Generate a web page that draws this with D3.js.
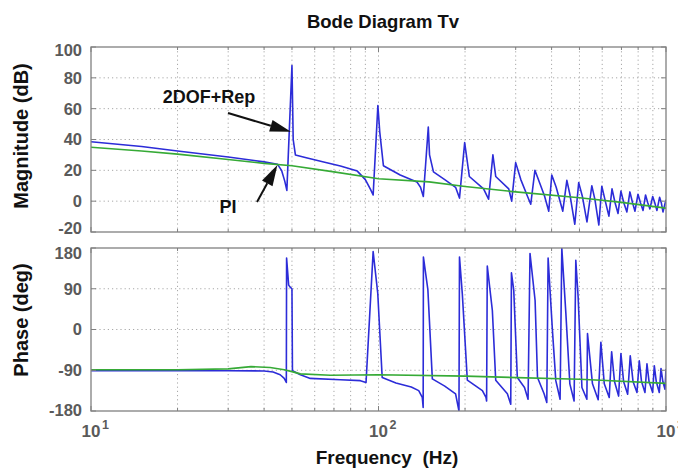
<!DOCTYPE html>
<html><head><meta charset="utf-8">
<script src="https://cdn.jsdelivr.net/npm/d3@7"></script>
<style>
html,body{margin:0;padding:0;background:#fff;}
svg{display:block;font-family:"Liberation Sans",Arial,Helvetica,sans-serif;}
</style></head>
<body><svg id="c" width="678" height="473"></svg>
<script>
// ---- data (frequency in Hz, value) ----
const title = "Bode Diagram Tv";
const xLabel = "Frequency  (Hz)";
const magLabel = "Magnitude (dB)";
const phaseLabel = "Phase (deg)";
const magTicks = [100, 80, 60, 40, 20, 0, -20];
const phaseTicks = [180, 90, 0, -90, -180];
const decadeTicks = [10, 100, 1000];
const decadeExp = ["1", "2", "3"];

// 2DOF+Rep magnitude (dB)
const magRep = [[10,38.5],[15,35.5],[20,32.5],[30,28.6],[40,25.5],[44.5,24],[46,20],[47.2,13],[48,7],
 [50,88],[50.5,40],[51.4,30],[56.5,28],[65,25.3],[73.7,22.8],[84.4,19.5],[90,14],[93.8,7.7],[95.8,4],
 [99.5,62],[101,45],[104,23],[119,17],[136,12.5],[140,9],[143.2,3],
 [149,48],[150.5,30],[155.3,19],[170,14],[185.4,9],[191.3,2],
 [199.4,38],[207,16],[232,8],[241.5,1.3],
 [250,30],[255.7,16],[283.8,8],[290.6,0],
 [300,25],[312.6,14],[330,3],[338.5,-2],
 [350,20],[365,11],[378,3.4],[391,-6.5],
 [400.6,17],[415,9],[437.5,-6.5],
 [452,13.5],[463,4.5],[481.7,-15],
 [497,12],[512,3],[531,-13.5],
 [552,10],[566,1],[584,-15.5],
 [598,9.7],[615,0],[633,-9.7],
 [649,8],[665,-1],[681,-8],
 [697,6.5],[713,-1],[731,-7],
 [749,6],[765,-1],[780,-6.5],
 [799,4.5],[815,-1],[832,-6],
 [849,4],[864,-1],[879,-5],
 [899,3],[914,-1],[930,-6],
 [950,2.5],[963,-1],[976,-7],[1000,1]];

// PI magnitude (dB)
const magPI = [[10,35],[15,32.5],[20,30.5],[30,27],[40,24.5],[50,23],[70,19],[100,14.5],[150,12.5],
 [200,9.5],[300,6],[500,2.2],[700,-0.8],[1000,-4.5]];

// 2DOF+Rep phase (deg)
const phaseRep = [[10,-91],[20,-91],[30,-91],[40,-91.5],[43,-94],[45.5,-100],[47,-108],[47.8,-117],
 [47.9,158],[48.7,98],[49.4,93],[50,90],[50.2,-91],[53.5,-100],[57.9,-108],[73.7,-111],[86.5,-113],
 [90.5,-117],[95.8,172],[99.4,80],[103,-106],[115,-118],[130,-127],[138,-135],[142,-150],[143,-172],
 [143.3,160],[148.5,88],[153.9,-109],[170,-125],[185.4,-142],[190.5,-180],[191.3,160],[195.7,78],
 [203.7,-112],[229.8,-135],[236.5,-150],[237.7,-158],[239,140],[248.9,42],[255.7,-112],[280.7,-142],
 [288.4,-165],[290,125],[295.4,87],[304,-106],[322,-128],[331.3,-154],[336.5,168],[350.5,64],
 [357.3,-106],[376.7,-142],[384.9,-161],[389,158],[402.7,-2],[413.7,-113],[428.2,-154],[434.1,180],
 [448.4,36],[463,-120],[479,-158],[485.6,153],[494.7,72],[510,-128],[530.6,-154],[533.3,-9],
 [555,-120],[580.9,-155],[593.5,-28],[610,-120],[634.6,-150],[647,-49],[662,-115],[684.2,-147],
 [697,-53],[712,-115],[735.6,-143],[751,-58],[768,-115],[792.5,-139],[807.3,-69],[822,-115],
 [845,-139],[858.6,-76],[873,-115],[898.6,-139],[910.5,-80],[925,-115],[947.6,-139],[960.7,-86],
 [975,-115],[992,-132],[1000,-87]];

// PI phase (deg)
const phasePI = [[10,-89],[20,-89],[30,-87],[36,-82],[42,-84],[47,-89],[50,-93],[53.5,-98],[68,-101],
 [100,-100],[200,-103],[500,-110],[1000,-119]];

// ---- drawing ----
const svg = d3.select("#c");
const X0 = 91, X1 = 666;
const panels = [
  {top: 47, bottom: 232, domain: [-20, 100], ticks: magTicks, label: magLabel, labelY: 136,
   edgeShift: [3, -4],
   series: [{d: magRep, c: "#2c2cd8"}, {d: magPI, c: "#36aa36"}]},
  {top: 248, bottom: 411, domain: [-180, 180], ticks: phaseTicks, label: phaseLabel, labelY: 320,
   edgeShift: [5, -1],
   series: [{d: phaseRep, c: "#2c2cd8"}, {d: phasePI, c: "#36aa36"}]}
];
const x = d3.scaleLog().domain([10, 1000]).range([X0, X1]);
const logTicks = [];
for (let dec = 10; dec < 1000; dec *= 10) for (let k = 1; k < 10; k++) logTicks.push(dec * k);
logTicks.push(1000);

const frameCol = "#808080";
panels.forEach((p, i) => {
  const y = d3.scaleLinear().domain(p.domain).range([p.bottom, p.top]);
  const g = svg.append("g");
  const clipId = "clip" + i;
  svg.append("clipPath").attr("id", clipId).append("rect")
    .attr("x", X0).attr("y", p.top).attr("width", X1 - X0).attr("height", p.bottom - p.top);
  g.append("rect").attr("x", X0).attr("y", p.top).attr("width", X1 - X0).attr("height", p.bottom - p.top)
    .attr("fill", "#fff");
  // grid
  const grid = g.append("g").attr("stroke", "#a8a8a8").attr("stroke-width", 1).attr("stroke-dasharray", "1.2,3");
  logTicks.filter(t => t > 10 && t < 1000).forEach(t => {
    grid.append("line").attr("x1", x(t)).attr("x2", x(t)).attr("y1", p.top).attr("y2", p.bottom);
  });
  p.ticks.filter(t => t > p.domain[0] && t < p.domain[1]).forEach(t => {
    grid.append("line").attr("x1", X0).attr("x2", X1).attr("y1", y(t)).attr("y2", y(t));
  });
  // series
  const line = d3.line().x(d => x(d[0])).y(d => y(d[1]));
  const sg = g.append("g").attr("clip-path", `url(#${clipId})`);
  p.series.forEach(s => {
    sg.append("path").attr("d", line(s.d)).attr("fill", "none").attr("stroke", s.c)
      .attr("stroke-width", 1.6).attr("stroke-linejoin", "round");
  });
  // ticks
  const tk = g.append("g").attr("stroke", frameCol).attr("stroke-width", 1);
  logTicks.forEach(t => {
    const len = decadeTicks.includes(t) ? 5 : 3;
    tk.append("line").attr("x1", x(t)).attr("x2", x(t)).attr("y1", p.bottom).attr("y2", p.bottom - len);
    tk.append("line").attr("x1", x(t)).attr("x2", x(t)).attr("y1", p.top).attr("y2", p.top + len);
  });
  p.ticks.forEach(t => {
    tk.append("line").attr("x1", X0).attr("x2", X0 + 5).attr("y1", y(t)).attr("y2", y(t));
    tk.append("line").attr("x1", X1).attr("x2", X1 - 5).attr("y1", y(t)).attr("y2", y(t));
  });
  // frame
  g.append("rect").attr("x", X0).attr("y", p.top).attr("width", X1 - X0).attr("height", p.bottom - p.top)
    .attr("fill", "none").attr("stroke", frameCol).attr("stroke-width", 1.3);
  // tick labels
  p.ticks.forEach(t => {
    let off = 0;
    if (t === p.domain[1]) off = p.edgeShift[0];
    if (t === p.domain[0]) off = p.edgeShift[1];
    g.append("text").attr("x", 82).attr("y", y(t) + off).attr("dy", "0.36em").attr("text-anchor", "end")
      .attr("font-size", 16.5).attr("font-weight", "bold").attr("fill", "#5a5a5a").text(t);
  });
  // y label
  svg.append("text").attr("transform", `translate(28,${p.labelY}) rotate(-90)`)
    .attr("text-anchor", "middle").attr("font-size", 20).attr("font-weight", "bold").attr("fill", "#111")
    .text(p.label);
});

// x tick labels on bottom panel
decadeTicks.forEach((t, i) => {
  const tx = svg.append("text").attr("x", x(t)).attr("y", 437).attr("text-anchor", "middle")
    .attr("font-size", 17).attr("font-weight", "bold").attr("fill", "#5a5a5a");
  tx.append("tspan").text("10");
  svg.append("text").attr("x", x(t) + 11).attr("y", 429).attr("font-size", 12.5).attr("font-weight", "bold")
    .attr("fill", "#5a5a5a").text(decadeExp[i]);
});

// title and x label
svg.append("text").attr("x", 383).attr("y", 28).attr("text-anchor", "middle").attr("font-size", 18.5)
  .attr("font-weight", "bold").attr("fill", "#111").text(title);
svg.append("text").attr("x", 387).attr("y", 464).attr("text-anchor", "middle").attr("font-size", 19)
  .attr("font-weight", "bold").attr("fill", "#111").style("white-space", "pre").text(xLabel);

// annotations
const yMag = d3.scaleLinear().domain([-20, 100]).range([232, 47]);
function arrow(x1, y1, x2, y2, hl, hw) {
  const dx = x2 - x1, dy = y2 - y1, L = Math.hypot(dx, dy), ux = dx / L, uy = dy / L;
  const bx = x2 - ux * hl, by = y2 - uy * hl;
  svg.append("line").attr("x1", x1).attr("y1", y1).attr("x2", bx).attr("y2", by)
    .attr("stroke", "#111").attr("stroke-width", 2);
  svg.append("path").attr("d", `M${x2},${y2}L${bx - uy * hw / 2},${by + ux * hw / 2}L${bx + uy * hw / 2},${by - ux * hw / 2}Z`)
    .attr("fill", "#111");
}
svg.append("text").attr("x", 209).attr("y", 103).attr("text-anchor", "middle").attr("font-size", 18)
  .attr("font-weight", "bold").attr("fill", "#111").text("2DOF+Rep");
arrow(228, 113, x(50) - 1, yMag(45), 21, 12);
svg.append("text").attr("x", 228).attr("y", 213).attr("text-anchor", "middle").attr("font-size", 18)
  .attr("font-weight", "bold").attr("fill", "#111").text("PI");
arrow(257, 202, x(44.5), yMag(23.5), 21, 12);
</script></body></html>
